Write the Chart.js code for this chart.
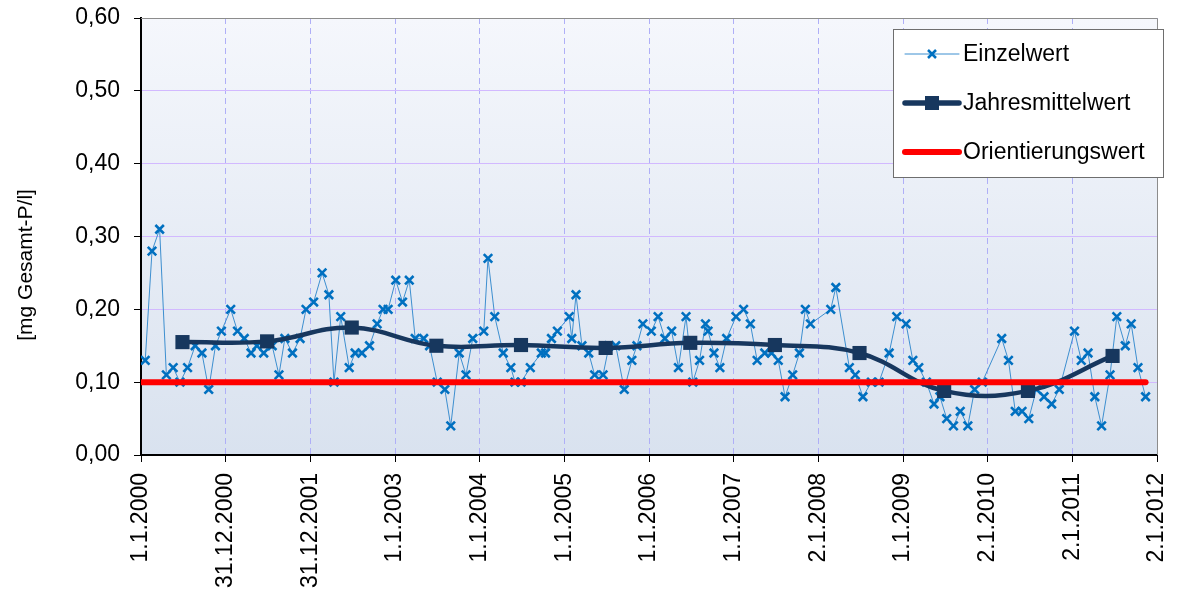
<!DOCTYPE html>
<html>
<head>
<meta charset="utf-8">
<script src="https://cdn.jsdelivr.net/npm/chart.js@4.4.1/dist/chart.umd.min.js"></script>
<style>
html, body { margin: 0; padding: 0; background: #fff; }
#wrap { width: 1177px; height: 591px; }
</style>
</head>
<body>
<div id="wrap"><canvas id="lineChart" width="1177" height="591"></canvas></div>
<script>
// x axis: Excel date axis, major unit ~365.4 days from 1.1.2000
const tickLabels = ['1.1.2000', '31.12.2000', '31.12.2001', '1.1.2003', '1.1.2004', '1.1.2005',
    '1.1.2006', '1.1.2007', '2.1.2008', '1.1.2009', '2.1.2010', '2.1.2011', '2.1.2012'];
const tickStepDays = 365.4;
const yTitle = '[mg Gesamt-P/l]';

// Einzelwert: sample time (years after 1.1.2000) and value
const einzelJahr = [0.05, 0.13, 0.22, 0.30, 0.38, 0.46, 0.55, 0.64, 0.72, 0.80, 0.88, 0.95,
    1.06, 1.14, 1.22, 1.30, 1.37, 1.45, 1.55, 1.63, 1.70, 1.79, 1.88, 1.95,
    2.04, 2.14, 2.22, 2.28, 2.36, 2.46, 2.53, 2.61, 2.70, 2.79, 2.86, 2.92,
    3.01, 3.09, 3.17, 3.24, 3.34, 3.41, 3.50, 3.59, 3.66, 3.76, 3.84, 3.92,
    4.05, 4.10, 4.18, 4.28, 4.37, 4.42, 4.49, 4.60, 4.73, 4.78, 4.85, 4.92,
    5.06, 5.09, 5.14, 5.21, 5.29, 5.36, 5.46, 5.53, 5.61, 5.71, 5.80, 5.86, 5.93,
    6.03, 6.11, 6.19, 6.27, 6.35, 6.44, 6.52, 6.60, 6.67, 6.70, 6.77, 6.84, 6.92,
    7.03, 7.12, 7.20, 7.28, 7.37, 7.45, 7.53, 7.61, 7.70, 7.78, 7.85, 7.91,
    8.15, 8.21, 8.37, 8.44, 8.53, 8.63, 8.72, 8.84, 8.93,
    9.04, 9.12, 9.19, 9.28, 9.37, 9.44, 9.52, 9.60, 9.68, 9.77, 9.85, 9.94,
    10.17, 10.25, 10.33, 10.41, 10.49, 10.58, 10.67, 10.76, 10.85,
    11.03, 11.11, 11.19, 11.27, 11.35, 11.45, 11.53, 11.63, 11.70, 11.78, 11.87];
const einzelWert = [0.13, 0.28, 0.31, 0.11, 0.12, 0.10, 0.12, 0.15, 0.14, 0.09, 0.15, 0.17,
    0.20, 0.17, 0.16, 0.14, 0.15, 0.14, 0.15, 0.11, 0.16, 0.14, 0.16, 0.20,
    0.21, 0.25, 0.22, 0.10, 0.19, 0.12, 0.14, 0.14, 0.15, 0.18, 0.20, 0.20,
    0.24, 0.21, 0.24, 0.16, 0.16, 0.15, 0.10, 0.09, 0.04, 0.14, 0.11, 0.16,
    0.17, 0.27, 0.19, 0.14, 0.12, 0.10, 0.10, 0.12, 0.14, 0.14, 0.16, 0.17,
    0.19, 0.16, 0.22, 0.15, 0.14, 0.11, 0.11, 0.15, 0.15, 0.09, 0.13, 0.15, 0.18,
    0.17, 0.19, 0.16, 0.17, 0.12, 0.19, 0.10, 0.13, 0.18, 0.17, 0.14, 0.12, 0.16,
    0.19, 0.20, 0.18, 0.13, 0.14, 0.14, 0.13, 0.08, 0.11, 0.14, 0.20, 0.18,
    0.20, 0.23, 0.12, 0.11, 0.08, 0.10, 0.10, 0.14, 0.19,
    0.18, 0.13, 0.12, 0.10, 0.07, 0.08, 0.05, 0.04, 0.06, 0.04, 0.09, 0.10,
    0.16, 0.13, 0.06, 0.06, 0.05, 0.09, 0.08, 0.07, 0.09,
    0.17, 0.13, 0.14, 0.08, 0.04, 0.11, 0.19, 0.15, 0.18, 0.12, 0.08];

// Jahresmittelwert (mid of each year)
const mittelJahr = [0.49, 1.49, 2.49, 3.49, 4.49, 5.49, 6.49, 7.49, 8.49, 9.49, 10.48, 11.48];
const mittelWert = [0.155, 0.156, 0.175, 0.150, 0.151, 0.147, 0.154, 0.151, 0.140, 0.088, 0.088, 0.136];

// Orientierungswert
const orientJahr = [0.0, 11.87];
const orientWert = [0.10, 0.10];

const toPoints = (jahre, werte) => jahre.map((j, i) => ({ x: j * 365.25, y: werte[i] }));
const fontFamily = '"Liberation Sans", Arial, sans-serif';

const plotDecor = {
    id: 'plotDecor',
    beforeDraw(chart) {
        const { ctx, chartArea: a } = chart;
        const grad = ctx.createLinearGradient(0, a.top, 0, a.bottom);
        grad.addColorStop(0, '#F5F7FC');
        grad.addColorStop(1, '#D9E2EF');
        ctx.save();
        ctx.fillStyle = grad;
        ctx.fillRect(a.left, a.top, a.right - a.left, a.bottom - a.top);
        ctx.restore();
    },
    afterDraw(chart) {
        const { ctx, chartArea: a } = chart;
        ctx.save();
        // thin frame at top / right
        ctx.strokeStyle = '#8C8C8C';
        ctx.lineWidth = 1;
        ctx.beginPath();
        ctx.moveTo(a.left, a.top + 0.5);
        ctx.lineTo(a.right + 0.5, a.top + 0.5);
        ctx.lineTo(a.right + 0.5, a.bottom);
        ctx.stroke();

        // y axis title (sits a bit below the axis centre in the original)
        ctx.save();
        ctx.translate(26, a.top + (a.bottom - a.top) * 0.565);
        ctx.rotate(-Math.PI / 2);
        ctx.font = '21px ' + fontFamily;
        ctx.fillStyle = '#000';
        ctx.textAlign = 'center';
        ctx.textBaseline = 'middle';
        ctx.fillText(yTitle, 0, 0);
        ctx.restore();

        // legend box
        const bx = a.right - 264, by = a.top + 11, bw = 270, bh = 148;
        ctx.fillStyle = '#FFFFFF';
        ctx.fillRect(bx, by, bw, bh);
        ctx.strokeStyle = '#6E6E6E';
        ctx.strokeRect(bx + 0.5, by + 0.5, bw, bh);

        const ds = chart.data.datasets;
        const rowY = [by + 25, by + 74, by + 123];
        const x0 = bx + 12, x1 = bx + 66, xm = (x0 + x1) / 2;
        ctx.font = '23px ' + fontFamily;
        ctx.textBaseline = 'middle';
        ctx.textAlign = 'left';
        ds.forEach((d, i) => {
            const y = rowY[i];
            ctx.strokeStyle = d.borderColor;
            ctx.lineWidth = i === 1 ? 5.5 : d.borderWidth;
            ctx.lineCap = 'round';
            ctx.beginPath();
            ctx.moveTo(x0, y);
            ctx.lineTo(x1, y);
            ctx.stroke();
            if (d.pointStyle === 'crossRot') {
                ctx.strokeStyle = d.pointBorderColor;
                ctx.lineWidth = 2.5;
                ctx.lineCap = 'butt';
                ctx.beginPath();
                ctx.moveTo(xm - 4, y - 4); ctx.lineTo(xm + 4, y + 4);
                ctx.moveTo(xm - 4, y + 4); ctx.lineTo(xm + 4, y - 4);
                ctx.stroke();
            } else if (d.pointStyle === 'rect') {
                ctx.fillStyle = d.pointBackgroundColor;
                ctx.fillRect(xm - 7, y - 7, 14, 14);
            }
            ctx.fillStyle = '#000';
            ctx.fillText(d.label, x1 + 4, y + 1);
        });
        ctx.restore();
    }
};

const ctx = document.getElementById('lineChart').getContext('2d');
new Chart(ctx, {
    type: 'line',
    data: {
        datasets: [{
            label: 'Einzelwert',
            data: toPoints(einzelJahr, einzelWert),
            borderColor: '#3D8FD0',
            borderWidth: 1,
            pointStyle: 'crossRot',
            pointRadius: 6,
            pointBorderWidth: 2.6,
            pointBorderColor: '#0070C0',
            pointBackgroundColor: '#0070C0',
            tension: 0,
            order: 2
        }, {
            label: 'Jahresmittelwert',
            data: toPoints(mittelJahr, mittelWert),
            borderColor: '#17375E',
            borderWidth: 4.5,
            pointStyle: 'rect',
            pointRadius: 10,
            pointBorderWidth: 0,
            pointBackgroundColor: '#17375E',
            pointBorderColor: '#17375E',
            tension: 0.4,
            order: 1
        }, {
            label: 'Orientierungswert',
            data: toPoints(orientJahr, orientWert),
            borderColor: '#FF0000',
            borderWidth: 6,
            borderCapStyle: 'round',
            pointRadius: 0,
            tension: 0,
            order: 0
        }]
    },
    options: {
        responsive: false,
        animation: false,
        devicePixelRatio: 1,
        layout: { padding: { top: 18, right: 20, left: 0, bottom: 0 } },
        plugins: { legend: { display: false }, tooltip: { enabled: false } },
        scales: {
            x: {
                type: 'linear',
                min: 0,
                max: (tickLabels.length - 1) * tickStepDays,
                afterBuildTicks: axis => {
                    axis.ticks = tickLabels.map((l, i) => ({ value: i * tickStepDays }));
                },
                afterFit: axis => {
                    axis.height = 136;
                    axis.paddingLeft = 0;
                    axis.paddingRight = 0;
                },
                ticks: {
                    autoSkip: false,
                    minRotation: 90,
                    maxRotation: 90,
                    padding: 11,
                    color: '#000',
                    font: { size: 23, family: fontFamily },
                    callback: (v, i) => tickLabels[i]
                },
                grid: { color: '#AFAFF7', tickLength: 7, tickColor: '#000', lineWidth: 1 },
                border: { display: true, color: '#000', width: 2, dash: [6, 4] }
            },
            y: {
                min: 0,
                max: 0.6,
                afterFit: axis => {
                    axis.width = 141;
                    axis.paddingTop = 0;
                    axis.paddingBottom = 0;
                },
                ticks: {
                    stepSize: 0.1,
                    padding: 14,
                    color: '#000',
                    font: { size: 23, family: fontFamily },
                    callback: v => v.toFixed(2).replace('.', ',')
                },
                grid: { color: '#D2B9FF', tickLength: 7, tickColor: '#000', lineWidth: 1 },
                border: { display: true, color: '#000', width: 2 },
                title: { display: false, text: yTitle }
            }
        }
    },
    plugins: [plotDecor]
});
</script>
</body>
</html>
